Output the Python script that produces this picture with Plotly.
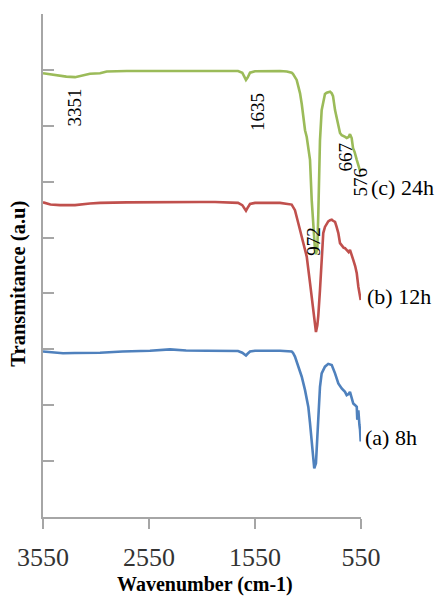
import plotly.graph_objects as go

# ---- data (wavenumber in cm-1, transmittance in arbitrary offset units) ----
wn_c = [3550, 3480, 3390, 3330, 3248, 3107, 3012, 2949, 2760, 2600, 2446, 2300, 2150, 2069,
        1927, 1800, 1710, 1670, 1644, 1635, 1620, 1597, 1550, 1450, 1314, 1250, 1204, 1192,
        1173, 1157, 1142, 1125, 1109, 1097, 1078, 1062, 1047, 1031, 1015, 1000, 990, 984,
        975, 962, 953, 946, 937, 921, 906, 890, 874, 859, 842, 826, 814, 795, 780, 767,
        748, 732, 715, 700, 685, 667, 654, 638, 625, 610, 590, 576, 565, 555]
t_c = [79.4, 79.2, 79.0, 78.8, 78.7, 79.3, 79.4, 79.7, 79.8, 79.8, 79.8, 79.9, 79.8, 79.9,
       79.8, 79.8, 79.8, 79.5, 78.7, 78.2, 78.6, 79.5, 79.75, 79.8, 79.8, 79.7, 79.5, 79.3,
       78.7, 78.2, 77.1, 75.8, 73.9, 71.6, 69.2, 68.0, 66.0, 63.9, 56.7, 51.9, 49.0, 47.8,
       47.0, 48.1, 54.1, 61.2, 67.4, 72.8, 74.6, 75.7, 75.9, 76.0, 76.1, 75.8, 75.3, 72.8,
       71.4, 69.8, 68.7, 68.3, 68.2, 68.0, 67.8, 68.0, 68.5, 67.8, 66.0, 65.3, 63.9, 63.0,
       62.4, 61.7]

wn_b = [3550, 3480, 3390, 3248, 3107, 3012, 2760, 2541, 2352, 2250, 2069, 1927, 1800, 1710,
        1670, 1644, 1635, 1620, 1597, 1550, 1314, 1204, 1173, 1142, 1109, 1078, 1062, 1031,
        1000, 984, 975, 962, 953, 937, 921, 906, 890, 874, 859, 842, 826, 814, 795, 780,
        764, 748, 732, 715, 701, 685, 667, 654, 638, 623, 605, 590, 575, 565, 553]
t_b = [56.3, 55.9, 55.8, 55.8, 56.1, 56.2, 56.3, 56.35, 56.4, 56.3, 56.35, 56.35, 56.3, 56.2,
       55.8, 55.1, 54.8, 55.3, 56.0, 56.2, 56.2, 55.9, 54.9, 52.6, 50.1, 48.1, 46.6, 41.9,
       36.5, 34.3, 33.1, 34.3, 36.0, 40.6, 46.6, 50.8, 51.9, 52.5, 52.9, 53.1, 53.2, 53.0,
       52.8, 51.9, 50.8, 49.0, 48.5, 48.2, 48.1, 47.8, 47.4, 47.8, 47.0, 46.0, 44.9, 43.6,
       41.2, 40.3, 38.8]

wn_a = [3550, 3480, 3361, 3250, 3012, 2800, 2541, 2352, 2200, 2003, 1927, 1800, 1710, 1670,
        1644, 1635, 1620, 1597, 1550, 1314, 1204, 1192, 1173, 1142, 1109, 1078, 1047, 1031,
        1015, 1000, 991, 975, 962, 953, 937, 921, 890, 859, 826, 795, 764, 732, 701, 685,
        667, 654, 638, 623, 605, 590, 585, 575, 565, 559, 553]
t_a = [29.6, 29.5, 29.3, 29.35, 29.4, 29.6, 29.75, 30.0, 29.8, 29.75, 29.75, 29.7, 29.7, 29.4,
       29.1, 28.9, 29.2, 29.6, 29.75, 29.75, 29.6, 29.4, 28.7, 26.9, 25.1, 22.7, 19.7, 16.8,
       13.8, 10.2, 8.7, 9.6, 13.8, 18.6, 23.3, 25.7, 26.9, 27.4, 27.2, 25.7, 23.9, 23.0,
       22.4, 21.8, 22.0, 22.4, 21.5, 20.3, 20.0, 19.7, 17.4, 19.1, 16.5, 15.6, 13.5]

series_names = ["(c) 24h", "(b) 12h", "(a) 8h"]
series_colors = ["#9BBB59", "#C0504D", "#4F81BD"]
x_ticks = [3550, 2550, 1550, 550]
peak_labels = ["3351", "1635", "972", "667", "576"]

SERIF = "Liberation Serif, Times New Roman, serif"
AXIS = "#A6A6A6"

fig = go.Figure()
for wn, t, name, col in zip([wn_c, wn_b, wn_a], [t_c, t_b, t_a], series_names, series_colors):
    fig.add_trace(go.Scatter(x=wn, y=t, mode="lines", name=name,
                             line=dict(color=col, width=2.6), showlegend=False))

fig.update_layout(
    width=435, height=598,
    margin=dict(l=43, r=74, t=14, b=81),
    paper_bgcolor="white", plot_bgcolor="white",
    showlegend=False,
)
fig.update_xaxes(
    automargin=False,
    range=[3550, 550], tickvals=x_ticks, ticktext=[str(v) for v in x_ticks],
    ticks="outside", ticklen=10, tickwidth=1.5, tickcolor=AXIS,
    showline=True, linecolor=AXIS, linewidth=1.5,
    showgrid=False, zeroline=False,
    tickfont=dict(family=SERIF, size=26, color="#333333"),
    ticklabelstandoff=6,
)
fig.update_yaxes(
    automargin=False,
    range=[0, 90], dtick=10, tick0=0,
    ticks="inside", ticklen=11, tickwidth=1.5, tickcolor=AXIS,
    showline=True, linecolor=AXIS, linewidth=1.5,
    showgrid=False, zeroline=False, showticklabels=False,
)

# axis titles
fig.add_annotation(text="<b>Wavenumber (cm-1)</b>", xref="paper", yref="paper",
                   x=0.511, y=-0.135, xanchor="center", yanchor="middle", showarrow=False,
                   font=dict(family=SERIF, size=20, color="black"))
fig.add_annotation(text="<b>Transmitance (a.u)</b>", xref="paper", yref="paper",
                   x=-0.077, y=0.463, xanchor="center", yanchor="middle",
                   textangle=-90, showarrow=False,
                   font=dict(family=SERIF, size=20.5, color="black"))

# series labels
for name, xx, yy in zip(series_names, [1.025, 1.012, 1.006], [0.656, 0.439, 0.159]):
    fig.add_annotation(text=name, xref="paper", yref="paper", x=xx,
                       y=yy, xanchor="left", yanchor="middle", showarrow=False,
                       font=dict(family=SERIF, size=22, color="black"))

# peak labels (rotated)
for lab, px, py in zip(peak_labels, [0.099, 0.6745, 0.852, 0.950, 0.997],
                       [0.815, 0.806, 0.549, 0.715, 0.665]):
    fig.add_annotation(text=lab, xref="paper", yref="paper", x=px, y=py,
                       xanchor="center", yanchor="middle",
                       textangle=-90, showarrow=False,
                       font=dict(family=SERIF, size=19, color="black"))

fig.write_html("out.html", post_script="document.body.style.margin='0';",
               config={"displayModeBar": False})
